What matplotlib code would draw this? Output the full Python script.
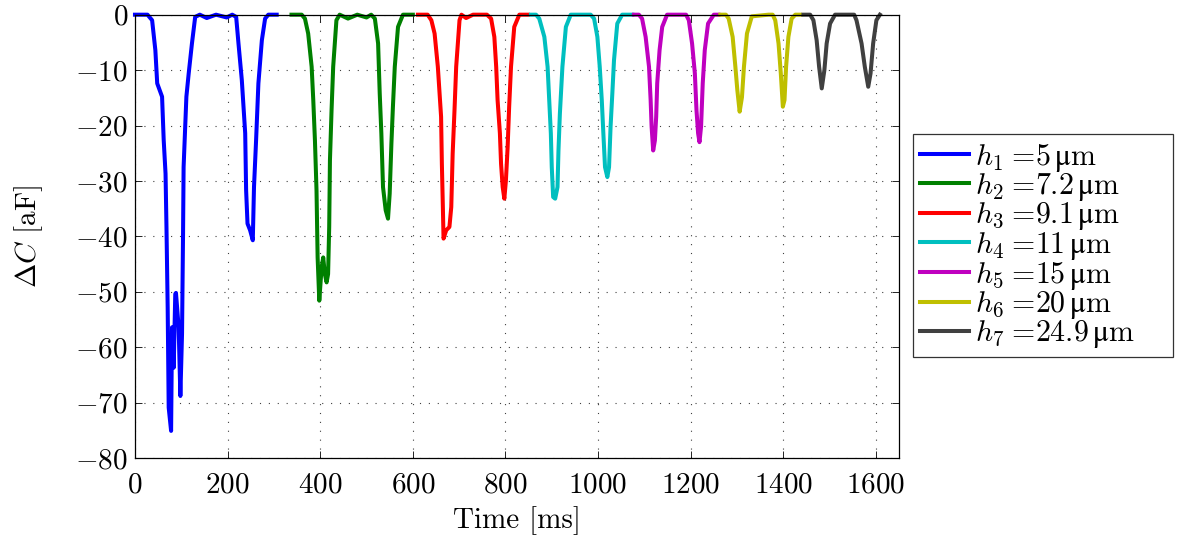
import numpy as np
import matplotlib
matplotlib.use('Agg')
import matplotlib.pyplot as plt

plt.rcParams['font.family'] = ['cmr10', 'DejaVu Serif']
plt.rcParams['mathtext.fontset'] = 'cm'
plt.rcParams['axes.formatter.use_mathtext'] = True

# capacitance change for each electrode height, two passes per height
t1 = [0, 27, 37, 44, 48, 58.5, 62, 66, 68, 70.6, 72.8, 78, 80, 83.6, 87, 88.5, 94.3, 98, 101.6, 103.8,
      105, 111, 116, 123, 130, 140, 155, 175, 198, 210, 218.5, 223.5, 230.7, 238, 240, 243, 248.6,
      254.4, 257, 261.5, 266.5, 274, 281, 288, 306]
c1 = [0, 0, -1, -6.4, -12.4, -14.8, -22.6, -28.7, -38.3, -52.8, -70.9, -75.1, -56.4, -63.7, -50.4,
      -50.2, -56.4, -68.8, -57.6, -39.5, -27.5, -14.8, -10.6, -5.2, -0.4, 0, -0.6, 0, -0.5, 0, -0.4,
      -5.2, -11.8, -21.4, -31.7, -37.7, -38.9, -40.7, -31.1, -22.7, -12.4, -4.6, -0.7, 0, 0]

t2 = [338, 360, 367, 374, 381.5, 385, 388.6, 392, 394.4, 398, 403, 406.5, 410, 413.8, 417, 419.4, 421,
      424.5, 428, 435, 442, 460, 480, 500, 510, 518, 525, 528.5, 532, 535.6, 541.4, 546.4, 550, 553.7,
      557, 561, 568, 578.7, 600]
c2 = [0, 0, -0.7, -3.4, -9.4, -15.4, -22.7, -31.7, -43.8, -51.6, -45.6, -43.8, -46.8, -48.3, -46.8,
      -38.3, -26.3, -17.2, -9.4, -1, 0, -0.7, 0, -0.5, 0, -0.7, -5.2, -14.2, -21.4, -31.1, -35.3, -36.8,
      -32.3, -23.3, -16.6, -9.4, -2.2, 0, 0]

t3 = [611, 632, 640, 647, 654, 661, 662.7, 665, 666.3, 672, 679, 683, 686, 690, 693.6, 700.8, 705, 715,
      730, 760, 769, 776, 780, 783, 788, 790.5, 794, 797.6, 801, 804.7, 808, 812, 819, 830, 848]
c3 = [0, 0, -1, -3.4, -9.4, -18.4, -26.9, -35.3, -40.4, -38.9, -38.3, -34.7, -25.1, -17.2, -9.4, -1, 0,
      -0.6, 0, 0, -0.7, -4, -9.4, -15.4, -21.4, -26.9, -31.1, -33.2, -29.9, -23.9, -16.6, -9.4, -2.2, 0, 0]

t4 = [855, 866, 873, 884, 891, 894.5, 898, 900, 903, 907.4, 912.4, 914.5, 917.5, 923, 930.5, 941, 970,
      984, 991.4, 998.5, 1003.6, 1008, 1011.4, 1015, 1020, 1023.7, 1027, 1030.8, 1034.4, 1041.5, 1052,
      1074]
c4 = [0, 0, -0.7, -4, -9.4, -15.4, -21.4, -27.5, -32.9, -33.2, -31.1, -24.5, -17.9, -9.4, -2.2, 0, 0,
      0, -0.7, -4, -9.4, -15.4, -21.4, -27.5, -29.3, -27.5, -20.2, -14.2, -8.2, -1.6, 0, 0]

t5 = [1077.5, 1088, 1095, 1102.7, 1110, 1113.5, 1115.6, 1119, 1122.7, 1125.5, 1127.7, 1132.8, 1138.5,
      1149, 1181.5, 1190, 1196, 1203, 1209, 1212.5, 1216, 1219, 1222.4, 1226, 1230.4, 1237.5, 1250, 1260]
c5 = [0, 0, -0.7, -4, -9.4, -15.4, -20.2, -24.5, -22.7, -18.4, -12.4, -6.4, -2.2, 0, 0, 0, -1, -5.2,
      -10.6, -17.2, -21.4, -23, -20.2, -12.4, -6.4, -1.6, 0, 0]

t6 = [1264, 1276, 1282, 1290.6, 1296.5, 1300.7, 1305.7, 1310.7, 1315, 1321.5, 1332, 1368, 1377, 1382.6,
      1389.7, 1394.6, 1399, 1402.6, 1406, 1411, 1418, 1426, 1436]
c6 = [0, 0, -0.7, -4, -9.4, -13.6, -17.5, -14.9, -9.4, -3.4, -0.3, 0, 0, -1, -5.2, -10.6, -16.6, -15.4,
      -9.4, -4, -0.7, 0, 0]

t7 = [1443.5, 1458, 1465, 1472, 1477.3, 1483, 1488.7, 1493.6, 1501, 1511.7, 1547.5, 1553, 1558, 1569,
      1576, 1583.4, 1588.4, 1594, 1601, 1608.6]
c7 = [0, 0, -1, -4.6, -9.4, -13.3, -10, -5.2, -1.6, 0, 0, 0, -1, -5.2, -9.4, -13, -10.6, -5.2, -1, 0]

times = [t1, t2, t3, t4, t5, t6, t7]
signals = [c1, c2, c3, c4, c5, c6, c7]
heights = ['5', '7.2', '9.1', '11', '15', '20', '24.9']
colors = [(0, 0, 1), (0, 0.5, 0), (1, 0, 0), (0, 0.75, 0.75), (0.75, 0, 0.75),
          (0.75, 0.75, 0), (0.25, 0.25, 0.25)]

fig = plt.figure(figsize=(11.83, 5.44), dpi=100)
ax = fig.add_axes([0.1141, 0.158, 0.6459, 0.815])

for i in range(len(times)):
    ax.plot(times[i], signals[i], color=colors[i], lw=2.9, clip_on=False,
            label=r'$h_{%d}\;$=%s$\,\mathrm{μ}$m' % (i + 1, heights[i]))

ax.set_xlim(0, 1650)
ax.set_ylim(-80, 0)
ax.set_xticks(np.arange(0, 1601, 200))
ax.set_yticks(np.arange(-80, 1, 10))
ax.tick_params(direction='in', top=True, right=True, labelsize=21, length=5, width=0.6, pad=10)
ax.tick_params(axis='y', pad=5)
ax.grid(True, linestyle=(0, (1, 7)), color='0.25', linewidth=0.8)
for s in ax.spines.values():
    s.set_linewidth(0.9)

ax.set_xlabel('Time [ms]', fontsize=21, labelpad=6)
ax.set_ylabel(r'$\Delta C$ [aF]', fontsize=21, labelpad=22)

# legend box stretched to a fixed width right of the axes
leg = ax.legend(loc='center left', bbox_to_anchor=(0.772, 0.3437, 0.2198, 0.41), mode='expand',
                bbox_transform=fig.transFigure,
                fontsize=21.5, frameon=True, fancybox=False, edgecolor='k', handlelength=1.65,
                handletextpad=0.2, labelspacing=-0.09, borderpad=0.22, borderaxespad=0)
leg.get_frame().set_linewidth(0.9)

fig.savefig('out.png', dpi=100)
